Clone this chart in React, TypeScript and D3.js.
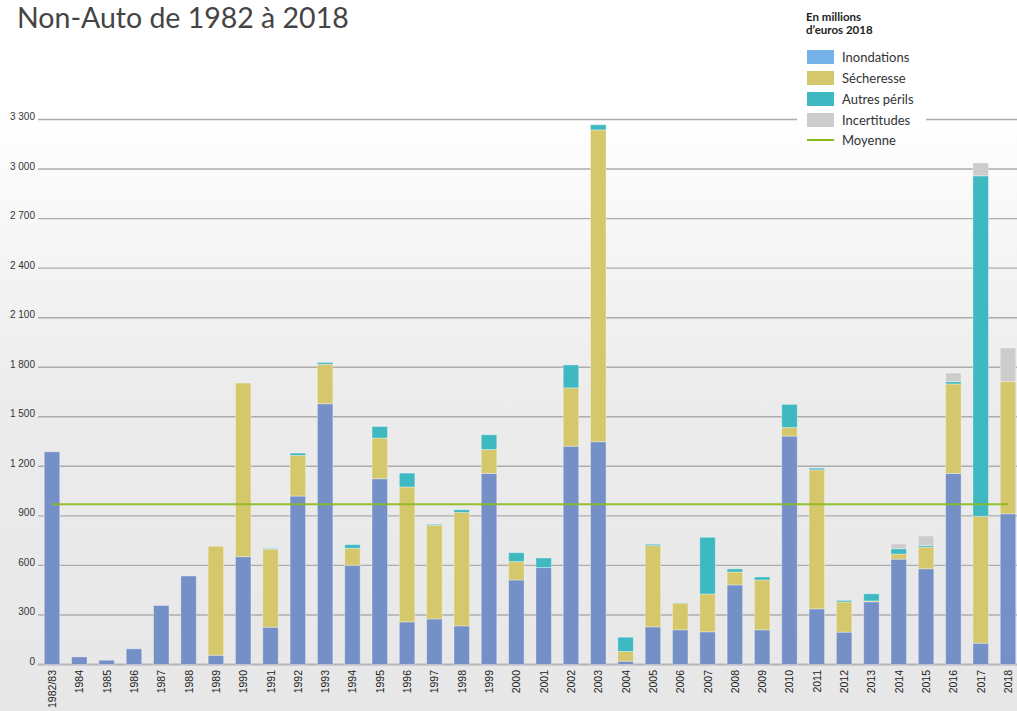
import React from 'react';
import * as d3 from 'd3';

const years = ['1982/83', '1984', '1985', '1986', '1987', '1988', '1989', '1990', '1991', '1992', '1993', '1994', '1995', '1996', '1997', '1998', '1999', '2000', '2001', '2002', '2003', '2004', '2005', '2006', '2007', '2008', '2009', '2010', '2011', '2012', '2013', '2014', '2015', '2016', '2017', '2018'];
const inondations = [1288, 46, 26, 95, 357, 536, 56, 653, 226, 1020, 1579, 601, 1125, 258, 276, 234, 1157, 512, 587, 1322, 1349, 20, 228, 210, 198, 482, 210, 1383, 337, 196, 380, 638, 580, 1157, 129, 913];
const secheresse = [0, 0, 0, 0, 0, 0, 660, 1051, 472, 246, 239, 103, 246, 817, 567, 687, 145, 111, 0, 353, 1888, 59, 492, 161, 229, 78, 302, 52, 842, 183, 5, 31, 131, 542, 768, 800];
const autresPerils = [0, 0, 0, 0, 0, 0, 0, 0, 4, 14, 11, 22, 70, 84, 6, 16, 89, 54, 58, 139, 31, 86, 8, 2, 343, 19, 18, 140, 10, 9, 43, 32, 10, 14, 2062, 0];
const incertitudes = [0, 0, 0, 0, 0, 0, 0, 0, 0, 0, 0, 0, 0, 0, 0, 0, 0, 0, 0, 0, 0, 0, 0, 0, 0, 0, 0, 0, 0, 0, 0, 30, 57, 52, 78, 204];
const moyenne = 971;
const yTicks = [0, 300, 600, 900, 1200, 1500, 1800, 2100, 2400, 2700, 3000, 3300];

const series = [
  { key: 'Inondations', values: inondations, color: '#7490c6', swatch: '#74b1e6' },
  { key: 'Sécheresse', values: secheresse, color: '#d4c76c', swatch: '#d4c76c' },
  { key: 'Autres périls', values: autresPerils, color: '#3eb8c1', swatch: '#3eb8c1' },
  { key: 'Incertitudes', values: incertitudes, color: '#cdcbcc', swatch: '#cdcbcc' },
];

const W = 1017;
const H = 711;

export default function App() {
  const x = d3.scalePoint<string>().domain(years).range([52, 1008]);
  const y = d3.scaleLinear().domain([0, 3300]).range([664.5, 119.5]);
  const barW = 15.5;

  const rows = years.map((yr, i) => {
    const r: any = { year: yr };
    series.forEach((s) => (r[s.key] = s.values[i]));
    return r;
  });
  const stacked = d3.stack().keys(series.map((s) => s.key))(rows);
  const fmt = (v: number) => d3.format(',')(v).replace(/,/g, ' ');

  return (
    <svg width={W} height={H} style={{ position: 'absolute', left: 0, top: 0, display: 'block' }}>
      <defs>
        <linearGradient id="bg" x1="0" y1="0" x2="0" y2="1">
          <stop offset="0" stopColor="#ffffff" />
          <stop offset="0.15" stopColor="#ffffff" />
          <stop offset="0.55" stopColor="#ececec" />
          <stop offset="1" stopColor="#e7e7e7" />
        </linearGradient>
      </defs>
      <rect x={0} y={0} width={W} height={H} fill="url(#bg)" />

      <text x={17} y={28} fontFamily="Lato, 'Open Sans', sans-serif" fontSize={28.5} fill="#444">
        Non-Auto de 1982 à 2018
      </text>

      {yTicks.map((t) => (
        <g key={t}>
          <line x1={38} x2={W} y1={y(t)} y2={y(t)} stroke={t === 0 ? '#b4b4b4' : '#acacac'} strokeWidth={t === 0 ? 2 : 1.4} />
          <text x={35} y={y(t) + 0.5} textAnchor="end" fontFamily="'Liberation Sans', Arial, sans-serif" fontSize={10} fill="#333">
            {fmt(t)}
          </text>
        </g>
      ))}

      {stacked.map((layer, li) => (
        <g key={layer.key} fill={series[li].color}>
          {layer.map((d, i) =>
            d[1] - d[0] > 0 ? (
              <rect
                key={i}
                x={(x(years[i]) as number) - barW / 2}
                y={y(d[1])}
                width={barW}
                height={y(d[0]) - y(d[1])}
                stroke="rgba(255,255,255,0.35)"
                strokeWidth={1}
              />
            ) : null
          )}
        </g>
      ))}

      <line
        x1={x(years[0])}
        x2={x(years[years.length - 1])}
        y1={y(moyenne)}
        y2={y(moyenne)}
        stroke="#8cbb1f"
        strokeWidth={2}
        opacity={0.9}
      />

      {years.map((yr) => (
        <text
          key={yr}
          transform={`translate(${(x(yr) as number) + 4},670) rotate(-90)`}
          textAnchor="end"
          fontFamily="'Liberation Sans', Arial, sans-serif"
          fontSize={10.5}
          fill="#222"
        >
          {yr}
        </text>
      ))}

      <g fontFamily="Lato, 'Open Sans', sans-serif">
        <rect x={797} y={112} width={129} height={16} fill="#ffffff" />
        <text x={806} y={21} fontSize={11.5} fontWeight={700} fill="#222">En millions</text>
        <text x={806} y={34} fontSize={11.5} fontWeight={700} fill="#222">d’euros 2018</text>
        {series.map((s, i) => (
          <g key={s.key} transform={`translate(807,${50 + i * 21})`}>
            <rect width={27} height={14} fill={s.swatch} />
            <text x={35} y={11.5} fontSize={13} fill="#333">{s.key}</text>
          </g>
        ))}
        <line x1={807} x2={834} y1={140} y2={140} stroke="#8cbb1f" strokeWidth={2} />
        <text x={842} y={145} fontSize={13} fill="#333">Moyenne</text>
      </g>
    </svg>
  );
}
